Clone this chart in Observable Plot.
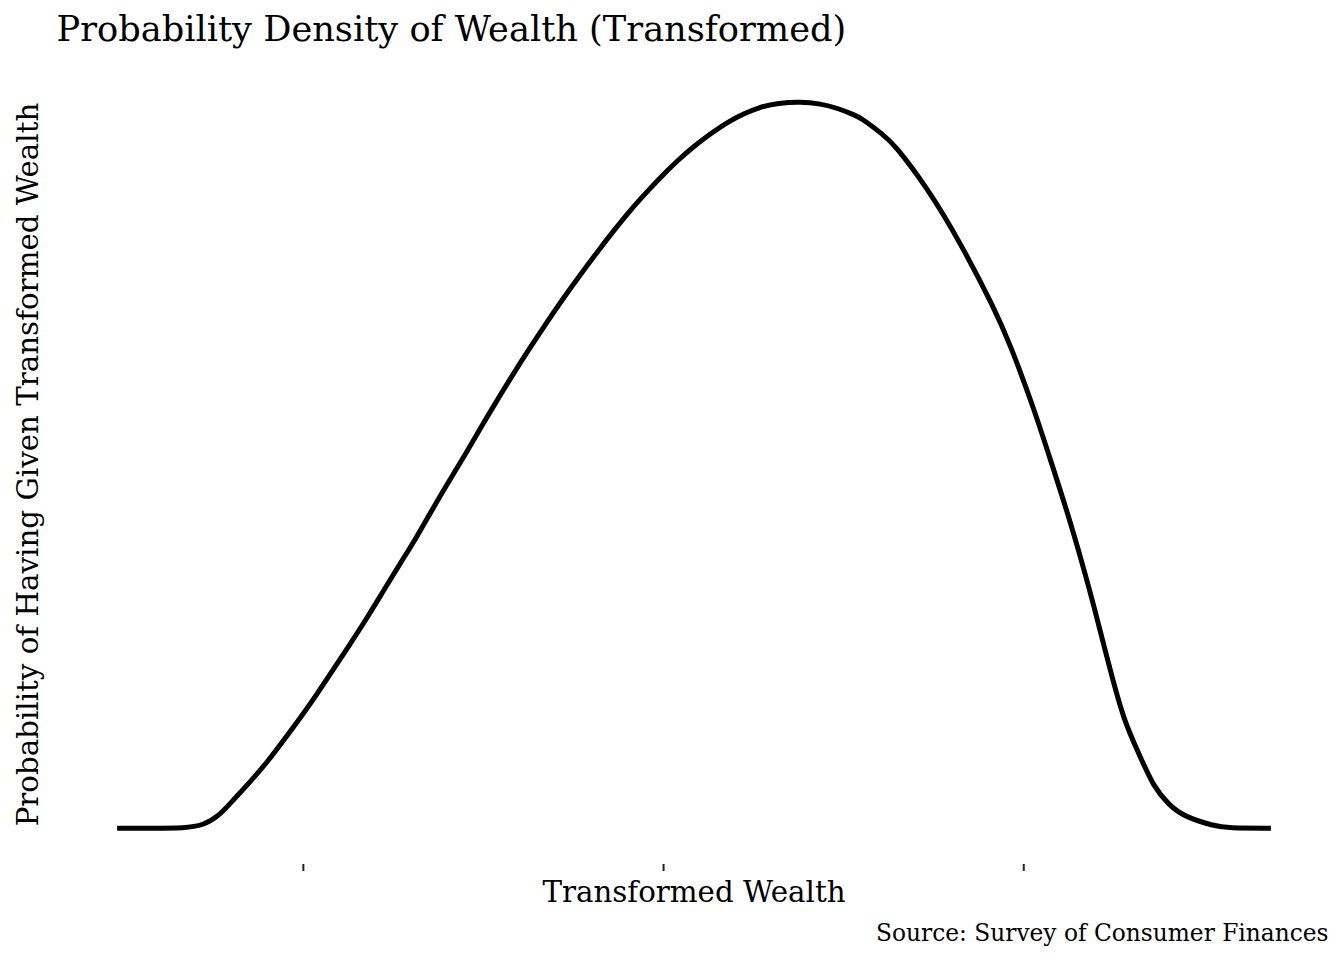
<!DOCTYPE html>
<html>
<head>
<meta charset="utf-8">
<script src="https://cdn.jsdelivr.net/npm/d3@7"></script>
<script src="https://cdn.jsdelivr.net/npm/@observablehq/plot@0.6"></script>
<style>
  html, body { margin: 0; padding: 0; background: white; }
  #chart { width: 1344px; height: 960px; }
</style>
</head>
<body>
<div id="chart"></div>
<script>
// Transformed wealth (x) and estimated density (y, peak normalised to 1)
const wealth = [
  -1.517, -1.425, -1.328, -1.278, -1.236, -1.194, -1.147, -1.100, -1.056, -1.008,
  -0.961, -0.917, -0.869, -0.822, -0.778, -0.731, -0.683, -0.639, -0.592, -0.544,
  -0.500, -0.472, -0.417, -0.369, -0.322, -0.278, -0.231, -0.183, -0.139, -0.092,
  -0.044, 0.000, 0.039, 0.083, 0.131, 0.178, 0.222, 0.269, 0.317, 0.381,
  0.436, 0.483, 0.528, 0.547, 0.611, 0.639, 0.733, 0.825, 0.917, 0.964,
  1.028, 1.075, 1.122, 1.167, 1.194, 1.242, 1.278, 1.319, 1.361, 1.403,
  1.444, 1.528, 1.567, 1.686
];
const density = [
  0.000, 0.000, 0.000, 0.004, 0.016, 0.039, 0.064, 0.091, 0.120, 0.152,
  0.185, 0.218, 0.254, 0.290, 0.326, 0.364, 0.402, 0.441, 0.480, 0.519,
  0.557, 0.580, 0.625, 0.662, 0.697, 0.729, 0.761, 0.793, 0.821, 0.850,
  0.876, 0.899, 0.918, 0.937, 0.955, 0.971, 0.982, 0.992, 0.997, 0.999,
  0.996, 0.990, 0.981, 0.977, 0.953, 0.941, 0.880, 0.804, 0.716, 0.663,
  0.577, 0.505, 0.433, 0.356, 0.307, 0.213, 0.148, 0.103, 0.056, 0.032,
  0.016, 0.003, 0.000, 0.000
];
const xTicks = [-1, 0, 1];

const titleText = "Probability Density of Wealth (Transformed)";
const xLabelText = "Transformed Wealth";
const yLabelText = "Probability of Having Given Transformed Wealth";
const sourceText = "Source: Survey of Consumer Finances";

const data = wealth.map((w, i) => ({ w, d: density[i] }));

const serif = "'DejaVu Serif', serif";

const chart = Plot.plot({
  width: 1344,
  height: 960,
  marginLeft: 59,
  marginRight: 16,
  marginTop: 64,
  marginBottom: 96,
  style: { fontFamily: serif, background: "white", color: "black" },
  x: { domain: [-1.677, 1.846], axis: null },
  y: { domain: [-0.05, 1.05], axis: null },
  marks: [
    Plot.axisX({
      ticks: xTicks,
      tickSize: 7,
      tickFormat: () => "",
      stroke: "#222",
      strokeWidth: 2,
      strokeOpacity: 1,
      label: null
    }),
    Plot.line(data, {
      x: "w",
      y: "d",
      stroke: "black",
      strokeWidth: 5,
      curve: "basis",
      strokeLinejoin: "round",
      strokeLinecap: "butt"
    }),
    Plot.text([titleText], {
      text: d => d,
      frameAnchor: "top-left",
      textAnchor: "start",
      lineAnchor: "bottom",
      dx: -3,
      dy: -24,
      fontSize: 35.2,
      fill: "black"
    }),
    Plot.text([xLabelText], {
      text: d => d,
      frameAnchor: "bottom",
      textAnchor: "middle",
      lineAnchor: "bottom",
      dy: 37,
      fontSize: 29.3,
      fill: "black"
    }),
    Plot.text([yLabelText], {
      text: d => d,
      frameAnchor: "left",
      textAnchor: "middle",
      lineAnchor: "bottom",
      rotate: -90,
      dx: -22,
      fontSize: 29.3,
      fill: "black"
    }),
    Plot.text([sourceText], {
      text: d => d,
      frameAnchor: "bottom-right",
      textAnchor: "end",
      lineAnchor: "bottom",
      dy: 76,
      fontSize: 23.3,
      fill: "black"
    })
  ]
});

document.getElementById("chart").appendChild(chart);
</script>
</body>
</html>
